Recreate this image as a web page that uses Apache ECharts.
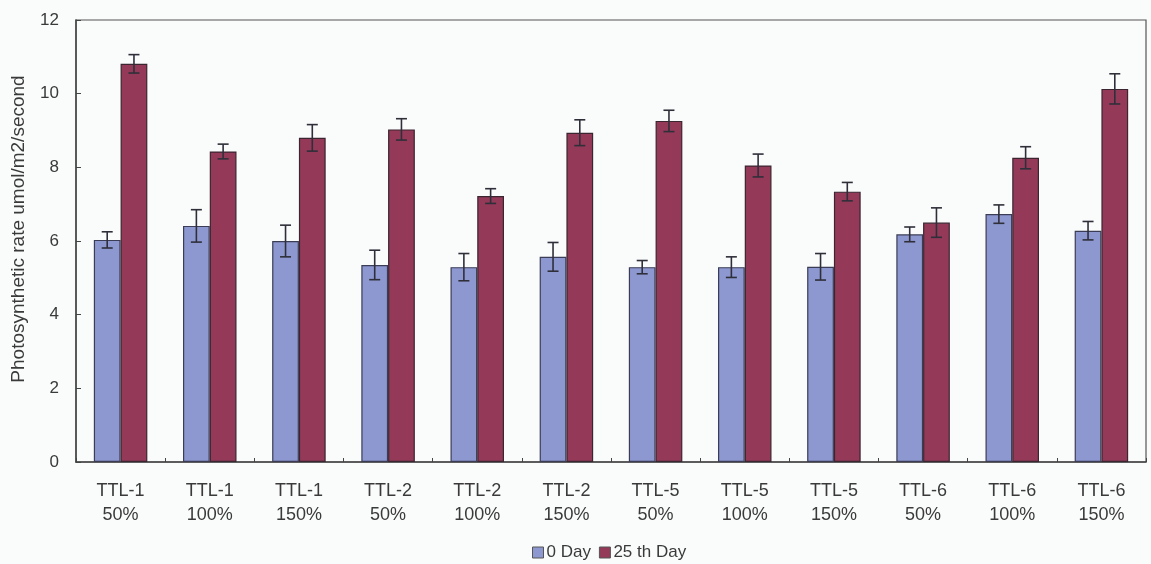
<!DOCTYPE html>
<html>
<head>
<meta charset="utf-8">
<script src="https://cdn.jsdelivr.net/npm/echarts@6/dist/echarts.min.js"></script>
<style>
  html, body { margin: 0; padding: 0; background: #fafbfb; }
  #chart { width: 1151px; height: 564px; }
</style>
</head>
<body>
<div id="chart"></div>
<script>
// Photosynthetic rate per treatment, measured on day 0 and day 25 (mean ± error)
const categories = [
  'TTL-1\n50%', 'TTL-1\n100%', 'TTL-1\n150%',
  'TTL-2\n50%', 'TTL-2\n100%', 'TTL-2\n150%',
  'TTL-5\n50%', 'TTL-5\n100%', 'TTL-5\n150%',
  'TTL-6\n50%', 'TTL-6\n100%', 'TTL-6\n150%'
];
const seriesNames = ['0 Day', '25 th Day'];
const day0 = [6.03, 6.41, 6.00, 5.35, 5.29, 5.57, 5.29, 5.29, 5.30, 6.18, 6.73, 6.28];
const day0Err = [0.22, 0.44, 0.43, 0.40, 0.37, 0.39, 0.18, 0.28, 0.36, 0.20, 0.25, 0.25];
const day25 = [10.81, 8.43, 8.80, 9.03, 7.22, 8.94, 9.26, 8.05, 7.34, 6.50, 8.26, 10.13];
const day25Err = [0.25, 0.20, 0.36, 0.29, 0.20, 0.35, 0.29, 0.31, 0.25, 0.40, 0.30, 0.41];
const yTicks = [0, 2, 4, 6, 8, 10, 12];

const colors = ['#8e98d0', '#943a58'];
const categoryGap = 0.40;
const FONT = 'Liberation Sans';

// Error bar drawn at the centre of one bar of a two-bar group
function errorBar(side) {
  return function (params, api) {
    const idx = api.value(0);
    const mean = api.value(1);
    const err = api.value(2);
    const catW = api.size([1, 0])[0];
    const barW = catW * (1 - categoryGap) / 2;
    const cx = api.coord([idx, mean])[0] + side * barW / 2;
    const yHi = api.coord([idx, mean + err])[1];
    const yLo = api.coord([idx, mean - err])[1];
    const cap = 5.5;
    const style = { stroke: '#2f2f3a', lineWidth: 1.6 };
    return {
      type: 'group',
      children: [
        { type: 'line', shape: { x1: cx, y1: yHi, x2: cx, y2: yLo }, style },
        { type: 'line', shape: { x1: cx - cap, y1: yHi, x2: cx + cap, y2: yHi }, style },
        { type: 'line', shape: { x1: cx - cap, y1: yLo, x2: cx + cap, y2: yLo }, style }
      ]
    };
  };
}

const chart = echarts.init(document.getElementById('chart'));
chart.setOption({
  backgroundColor: '#fafbfb',
  animation: false,
  grid: {
    left: 76, right: 5, top: 20, bottom: 102,
    show: true, borderColor: '#555', borderWidth: 1.2, backgroundColor: 'transparent'
  },
  legend: {
    top: 539,
    left: 527,
    data: seriesNames,
    itemWidth: 11,
    itemHeight: 11,
    itemGap: 8,
    icon: 'rect',
    textStyle: { fontFamily: FONT, fontSize: 17, color: '#3a3a3a', padding: [0, 0, 0, -2] },
    itemStyle: { borderColor: '#555', borderWidth: 1 }
  },
  graphic: [{
    type: 'text',
    x: 19, y: 229,
    rotation: Math.PI / 2,
    style: {
      text: 'Photosynthetic rate umol/m2/second',
      fontFamily: FONT, fontSize: 19, fill: '#3a3a3a',
      align: 'center', verticalAlign: 'middle'
    }
  }],
  xAxis: {
    type: 'category',
    data: categories,
    axisLine: { lineStyle: { color: '#444', width: 1.5 } },
    axisTick: { show: true, inside: true, length: 4, alignWithLabel: false, lineStyle: { color: '#444' } },
    axisLabel: {
      fontFamily: FONT, fontSize: 18, color: '#3a3a3a',
      lineHeight: 24, margin: 17, interval: 0
    }
  },
  yAxis: {
    type: 'value',
    min: yTicks[0], max: yTicks[yTicks.length - 1], interval: 2,
    splitLine: { show: false },
    axisLine: { show: true, lineStyle: { color: '#444', width: 1.5 } },
    axisTick: { show: true, inside: true, length: 5, lineStyle: { color: '#444' } },
    axisLabel: { fontFamily: FONT, fontSize: 17, color: '#3a3a3a', margin: 17 }
  },
  series: [
    {
      name: seriesNames[0], type: 'bar', data: day0,
      barGap: '0%', barCategoryGap: (categoryGap * 100) + '%',
      itemStyle: { color: colors[0], borderColor: '#3a3d55', borderWidth: 1.2 }
    },
    {
      name: seriesNames[1], type: 'bar', data: day25,
      barGap: '0%', barCategoryGap: (categoryGap * 100) + '%',
      itemStyle: { color: colors[1], borderColor: '#3a2530', borderWidth: 1.2 }
    },
    {
      type: 'custom', name: 'err0', renderItem: errorBar(-1), z: 10,
      data: day0.map((v, i) => [i, v, day0Err[i]]),
      tooltip: { show: false }
    },
    {
      type: 'custom', name: 'err25', renderItem: errorBar(1), z: 10,
      data: day25.map((v, i) => [i, v, day25Err[i]]),
      tooltip: { show: false }
    }
  ]
});
</script>
</body>
</html>
